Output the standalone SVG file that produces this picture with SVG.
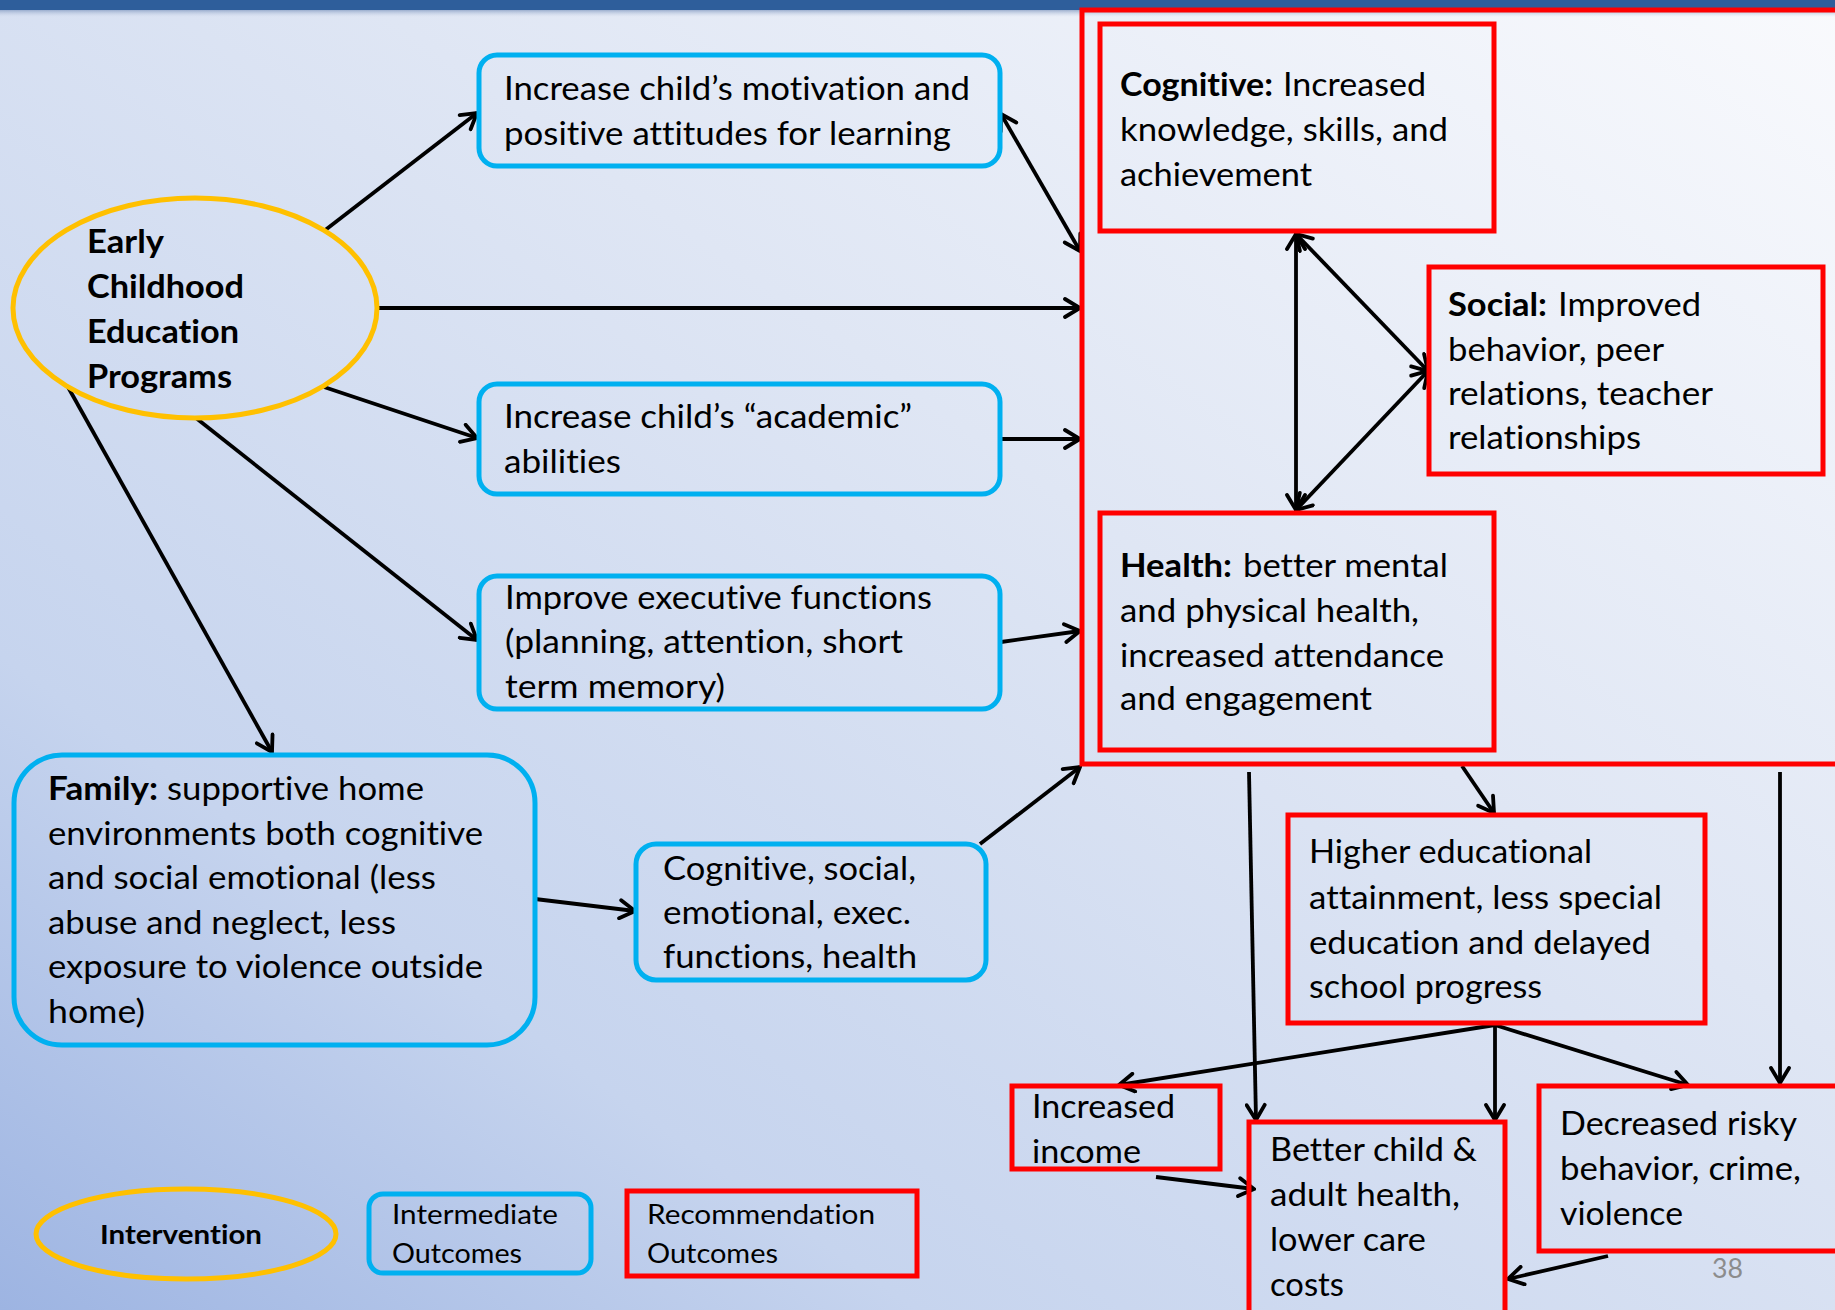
<svg xmlns="http://www.w3.org/2000/svg" width="1835" height="1310" viewBox="0 0 1835 1310">
<defs>
<linearGradient id="bg" x1="0" y1="1" x2="1" y2="0">
<stop offset="0" stop-color="#9db4e2"/>
<stop offset="0.25" stop-color="#c6d4ee"/>
<stop offset="0.6" stop-color="#dfe6f4"/>
<stop offset="1" stop-color="#f9fafd"/>
</linearGradient>
<linearGradient id="shadow" x1="0" y1="0" x2="0" y2="1">
<stop offset="0" stop-color="#7f97bf" stop-opacity="0.9"/>
<stop offset="1" stop-color="#c9d3e6" stop-opacity="0"/>
</linearGradient>
<marker id="ah" viewBox="-18 -11 20 22" refX="0" refY="0" markerWidth="20" markerHeight="22" markerUnits="userSpaceOnUse" orient="auto-start-reverse">
<path d="M -15 -9 L 0 0 L -15 9" fill="none" stroke="#000" stroke-width="3.8" stroke-linecap="round" stroke-linejoin="miter"/>
</marker>
<style>
.t{font-family:Lato,"Open Sans","Liberation Sans",sans-serif;font-size:33px;fill:#000;font-variant-ligatures:none}
.b{font-weight:bold}
.lg{font-family:Lato,"Open Sans","Liberation Sans",sans-serif;font-size:26px;fill:#000;font-variant-ligatures:none}
.blue{fill:none;stroke:#00B0F0;stroke-width:5}
.red{fill:none;stroke:#FF0000;stroke-width:5}
.yel{fill:none;stroke:#FFC000;stroke-width:5}
.c{fill:none;stroke:#000;stroke-width:3.8;marker-end:url(#ah)}
.d{fill:none;stroke:#000;stroke-width:3.8;marker-end:url(#ah);marker-start:url(#ah)}
</style>
</defs>
<rect x="0" y="0" width="1835" height="1310" fill="url(#bg)"/>
<rect x="0" y="9" width="1835" height="8" fill="url(#shadow)"/>
<rect x="0" y="0" width="1835" height="10" fill="#2E5E9B"/>

<g id="connectors">
<line class="c" x1="324" y1="231" x2="477" y2="113"/>
<line class="c" x1="377" y1="308" x2="1080" y2="308" stroke-width="4.5"/>
<line class="c" x1="324" y1="387" x2="477" y2="438"/>
<line class="c" x1="196" y1="418" x2="477" y2="640"/>
<line class="c" x1="68" y1="387" x2="272" y2="752"/>
<line class="d" x1="1001" y1="114" x2="1080" y2="251"/>
<line class="c" x1="1001" y1="439" x2="1080" y2="439"/>
<line class="c" x1="1001" y1="642" x2="1080" y2="631"/>
<line class="c" x1="980" y1="844" x2="1080" y2="767"/>
<line class="c" x1="535" y1="899" x2="635" y2="911"/>
<line class="d" x1="1296" y1="234" x2="1296" y2="510"/>
<line class="d" x1="1296" y1="234" x2="1428" y2="371"/>
<line class="d" x1="1296" y1="510" x2="1428" y2="371"/>
<line class="c" x1="1249" y1="772" x2="1256" y2="1120"/>
<line class="c" x1="1462" y1="766" x2="1494" y2="813"/>
<line class="c" x1="1780" y1="772" x2="1780" y2="1083"/>
<line class="c" x1="1495" y1="1025" x2="1119" y2="1085"/>
<line class="c" x1="1495" y1="1025" x2="1495" y2="1120"/>
<line class="c" x1="1495" y1="1025" x2="1688" y2="1085"/>
<line class="c" x1="1156" y1="1177" x2="1254" y2="1189"/>
<line class="c" x1="1608" y1="1256" x2="1508" y2="1279"/>
</g>

<g id="ecep">
<ellipse class="yel" cx="195" cy="308" rx="182" ry="110"/>
<text class="t b" x="87" y="253" textLength="77" lengthAdjust="spacingAndGlyphs">Early</text>
<text class="t b" x="87" y="298" textLength="157" lengthAdjust="spacingAndGlyphs">Childhood</text>
<text class="t b" x="87" y="343" textLength="152" lengthAdjust="spacingAndGlyphs">Education</text>
<text class="t b" x="87" y="388" textLength="145" lengthAdjust="spacingAndGlyphs">Programs</text>
</g>

<g id="motivation">
<rect class="blue" x="479" y="55" width="521" height="111" rx="18"/>
<text class="t" x="504" y="100" textLength="466" lengthAdjust="spacingAndGlyphs">Increase child’s motivation and</text>
<text class="t" x="504" y="145" textLength="447" lengthAdjust="spacingAndGlyphs">positive attitudes for learning</text>
</g>

<g id="academic">
<rect class="blue" x="479" y="384" width="521" height="110" rx="18"/>
<text class="t" x="504" y="428" textLength="408" lengthAdjust="spacingAndGlyphs">Increase child’s “academic”</text>
<text class="t" x="504" y="473" textLength="117" lengthAdjust="spacingAndGlyphs">abilities</text>
</g>

<g id="executive">
<rect class="blue" x="479" y="576" width="521" height="133" rx="18"/>
<text class="t" x="505" y="609" textLength="427" lengthAdjust="spacingAndGlyphs">Improve executive functions</text>
<text class="t" x="505" y="653" textLength="398" lengthAdjust="spacingAndGlyphs">(planning, attention, short</text>
<text class="t" x="505" y="698" textLength="220" lengthAdjust="spacingAndGlyphs">term memory)</text>
</g>

<g id="family">
<rect class="blue" x="14" y="755" width="521" height="290" rx="48"/>
<text class="t b" x="48" y="800" textLength="110" lengthAdjust="spacingAndGlyphs">Family:</text>
<text class="t" x="167" y="800" textLength="257" lengthAdjust="spacingAndGlyphs">supportive home</text>
<text class="t" x="48" y="845" textLength="435" lengthAdjust="spacingAndGlyphs">environments both cognitive</text>
<text class="t" x="48" y="889" textLength="388" lengthAdjust="spacingAndGlyphs">and social emotional (less</text>
<text class="t" x="48" y="934" textLength="348" lengthAdjust="spacingAndGlyphs">abuse and neglect, less</text>
<text class="t" x="48" y="978" textLength="435" lengthAdjust="spacingAndGlyphs">exposure to violence outside</text>
<text class="t" x="48" y="1023" textLength="97" lengthAdjust="spacingAndGlyphs">home)</text>
</g>

<g id="cogsocial">
<rect class="blue" x="636" y="844" width="350" height="136" rx="20"/>
<text class="t" x="663" y="880" textLength="253" lengthAdjust="spacingAndGlyphs">Cognitive, social,</text>
<text class="t" x="663" y="924" textLength="248" lengthAdjust="spacingAndGlyphs">emotional, exec.</text>
<text class="t" x="663" y="968" textLength="254" lengthAdjust="spacingAndGlyphs">functions, health</text>
</g>

<g id="outcomes-group">
<rect class="red" x="1082" y="10" width="790" height="754"/>
</g>

<g id="cognitive">
<rect class="red" x="1100" y="24" width="394" height="207"/>
<text class="t b" x="1120" y="96" textLength="153" lengthAdjust="spacingAndGlyphs">Cognitive:</text>
<text class="t" x="1283" y="96" textLength="143" lengthAdjust="spacingAndGlyphs">Increased</text>
<text class="t" x="1120" y="141" textLength="328" lengthAdjust="spacingAndGlyphs">knowledge, skills, and</text>
<text class="t" x="1120" y="186" textLength="192" lengthAdjust="spacingAndGlyphs">achievement</text>
</g>

<g id="social">
<rect class="red" x="1429" y="267" width="394" height="207"/>
<text class="t b" x="1448" y="316" textLength="99" lengthAdjust="spacingAndGlyphs">Social:</text>
<text class="t" x="1558" y="316" textLength="143" lengthAdjust="spacingAndGlyphs">Improved</text>
<text class="t" x="1448" y="361" textLength="216" lengthAdjust="spacingAndGlyphs">behavior, peer</text>
<text class="t" x="1448" y="405" textLength="265" lengthAdjust="spacingAndGlyphs">relations, teacher</text>
<text class="t" x="1448" y="449" textLength="193" lengthAdjust="spacingAndGlyphs">relationships</text>
</g>

<g id="health">
<rect class="red" x="1100" y="513" width="394" height="237"/>
<text class="t b" x="1120" y="577" textLength="112" lengthAdjust="spacingAndGlyphs">Health:</text>
<text class="t" x="1243" y="577" textLength="205" lengthAdjust="spacingAndGlyphs">better mental</text>
<text class="t" x="1120" y="622" textLength="299" lengthAdjust="spacingAndGlyphs">and physical health,</text>
<text class="t" x="1120" y="667" textLength="324" lengthAdjust="spacingAndGlyphs">increased attendance</text>
<text class="t" x="1120" y="710" textLength="252" lengthAdjust="spacingAndGlyphs">and engagement</text>
</g>

<g id="higher-ed">
<rect class="red" x="1288" y="815" width="417" height="208"/>
<text class="t" x="1309" y="863" textLength="283" lengthAdjust="spacingAndGlyphs">Higher educational</text>
<text class="t" x="1309" y="909" textLength="353" lengthAdjust="spacingAndGlyphs">attainment, less special</text>
<text class="t" x="1309" y="954" textLength="342" lengthAdjust="spacingAndGlyphs">education and delayed</text>
<text class="t" x="1309" y="998" textLength="233" lengthAdjust="spacingAndGlyphs">school progress</text>
</g>

<g id="income">
<rect class="red" x="1012" y="1086" width="208" height="83"/>
<text class="t" x="1032" y="1118" textLength="143" lengthAdjust="spacingAndGlyphs">Increased</text>
<text class="t" x="1032" y="1163" textLength="109" lengthAdjust="spacingAndGlyphs">income</text>
</g>

<g id="better-health">
<rect class="red" x="1249" y="1122" width="256" height="200"/>
<text class="t" x="1270" y="1161" textLength="207" lengthAdjust="spacingAndGlyphs">Better child &amp;</text>
<text class="t" x="1270" y="1206" textLength="190" lengthAdjust="spacingAndGlyphs">adult health,</text>
<text class="t" x="1270" y="1251" textLength="156" lengthAdjust="spacingAndGlyphs">lower care</text>
<text class="t" x="1270" y="1296" textLength="74" lengthAdjust="spacingAndGlyphs">costs</text>
</g>

<g id="risky">
<rect class="red" x="1539" y="1086" width="320" height="165"/>
<text class="t" x="1560" y="1135" textLength="237" lengthAdjust="spacingAndGlyphs">Decreased risky</text>
<text class="t" x="1560" y="1180" textLength="241" lengthAdjust="spacingAndGlyphs">behavior, crime,</text>
<text class="t" x="1560" y="1225" textLength="123" lengthAdjust="spacingAndGlyphs">violence</text>
</g>

<g id="legend-intervention">
<ellipse class="yel" cx="186" cy="1234" rx="150" ry="45"/>
<text class="lg b" x="100" y="1244" textLength="162" lengthAdjust="spacingAndGlyphs">Intervention</text>
</g>
<g id="legend-intermediate">
<rect class="blue" x="369" y="1194" width="222" height="79" rx="14"/>
<text class="lg" x="392" y="1224" textLength="166" lengthAdjust="spacingAndGlyphs">Intermediate</text>
<text class="lg" x="392" y="1263" textLength="130" lengthAdjust="spacingAndGlyphs">Outcomes</text>
</g>
<g id="legend-recommendation">
<rect class="red" x="627" y="1191" width="290" height="85"/>
<text class="lg" x="647" y="1224" textLength="228" lengthAdjust="spacingAndGlyphs">Recommendation</text>
<text class="lg" x="647" y="1263" textLength="131" lengthAdjust="spacingAndGlyphs">Outcomes</text>
</g>

<text x="1712" y="1278" font-family="Lato,'Open Sans',sans-serif" font-size="27" fill="#8c8c8c" textLength="31" lengthAdjust="spacingAndGlyphs">38</text>
</svg>
